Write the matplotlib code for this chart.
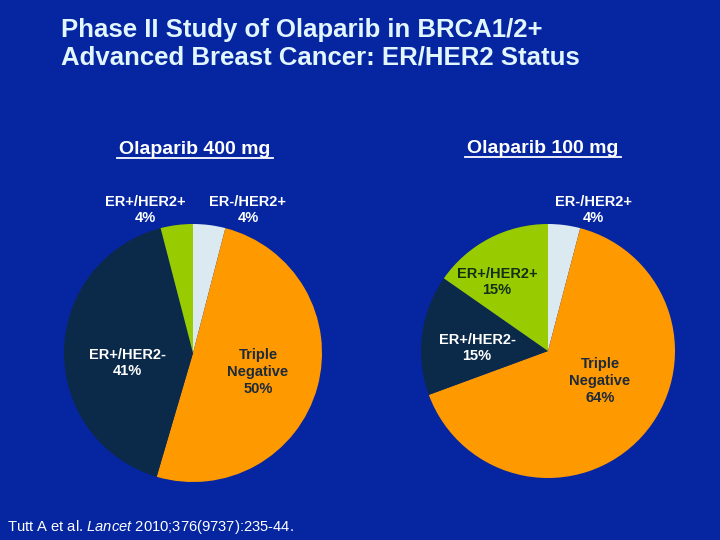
import matplotlib.pyplot as plt

plt.rcParams['font.family'] = ['Liberation Sans', 'DejaVu Sans']
plt.rcParams['mathtext.fontset'] = 'custom'
plt.rcParams['mathtext.rm'] = 'Liberation Sans'
plt.rcParams['mathtext.it'] = 'Liberation Sans:italic'

# 数据
categories = ['ER-/HER2+', 'Triple Negative', 'ER+/HER2-', 'ER+/HER2+']
pct_400 = [4, 50, 41, 4]
pct_100 = [4, 64, 15, 15]
colors = ['#dbe9f1', '#ff9900', '#0b2a4a', '#99cc00']

bg = '#0526a0'
W, H = 720, 540

fig = plt.figure(figsize=(7.2, 5.4), dpi=100, facecolor=bg)


def px(x, y):
    # 像素坐标 -> 图坐标
    return x / W, 1 - y / H


def pie_axes(cx, cy, r):
    ax = fig.add_axes([(cx - r) / W, 1 - (cy + r) / H, 2 * r / W, 2 * r / H])
    ax.set_facecolor(bg)
    ax.axis('off')
    return ax


ax1 = pie_axes(193, 353, 129)
ax1.pie(pct_400, colors=colors, startangle=90, counterclock=False,
        wedgeprops={'linewidth': 0})
ax1.set_xlim(-1, 1)
ax1.set_ylim(-1, 1)

ax2 = pie_axes(548, 351, 127)
ax2.pie(pct_100, colors=colors, startangle=90, counterclock=False,
        wedgeprops={'linewidth': 0})
ax2.set_xlim(-1, 1)
ax2.set_ylim(-1, 1)

# 标题
fig.text(*px(61, 44), 'Phase II Study of Olaparib in BRCA1/2+\nAdvanced Breast Cancer: ER/HER2 Status',
         color='#e2f6ff', fontsize=18.5, fontweight='bold', ha='left', va='center',
         linespacing=1.2)

# 子标题（带下划线）
for x, y, s in [(195, 149, 'Olaparib 400 mg'), (543, 148, 'Olaparib 100 mg')]:
    fig.text(*px(x, y), s, color='white', fontsize=14, fontweight='bold',
             ha='center', va='center')
    w = 156
    fig.add_artist(plt.Line2D([(x - w / 2) / W, (x + w / 2) / W],
                              [1 - (y + 9) / H] * 2, color='white', lw=1.3))

lab = dict(fontsize=10.5, fontweight='bold', ha='center', va='center', linespacing=1.25)

# 400 mg 标签
fig.text(*px(145, 210), f'{categories[3]}\n{pct_400[3]}%', color='white', **lab)
fig.text(*px(248, 210), f'{categories[0]}\n{pct_400[0]}%', color='white', **lab)
fig.text(*px(127, 363), f'{categories[2]}\n{pct_400[2]}%', color='white', **lab)
fig.text(*px(258, 372), f'Triple\nNegative\n{pct_400[1]}%', color='#1c2a3a', **lab)

# 100 mg 标签
fig.text(*px(593, 210), f'{categories[0]}\n{pct_100[0]}%', color='white', **lab)
fig.text(*px(497, 282), f'{categories[3]}\n{pct_100[3]}%', color='#123018', **lab)
fig.text(*px(477, 348), f'{categories[2]}\n{pct_100[2]}%', color='white', **lab)
fig.text(*px(600, 381), f'Triple\nNegative\n{pct_100[1]}%', color='#1c2a3a', **lab)

# 文献
fig.text(*px(7, 527), r'Tutt A et al. $\it{Lancet}$ 2010;376(9737):235-44.',
         color='white', fontsize=10.6, ha='left', va='center')

fig.savefig('out.png', dpi=100, facecolor=bg)
